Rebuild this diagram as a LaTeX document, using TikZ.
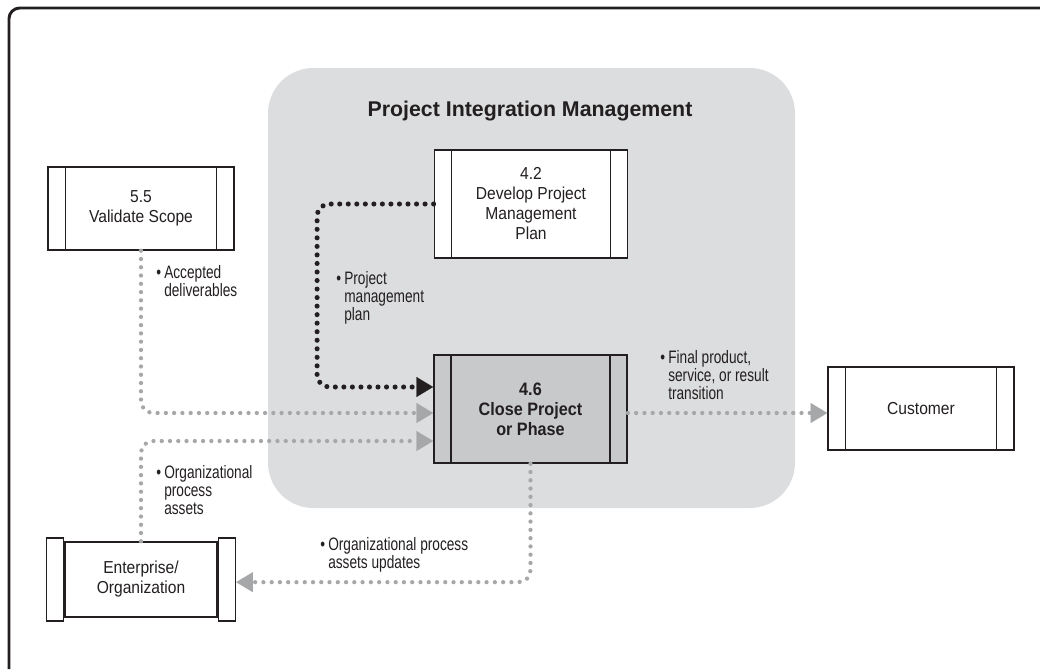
\documentclass[tikz,border=0pt]{standalone}
\usepackage{fontspec}
\setmainfont{Liberation Sans}
\newfontfamily\narrowfont{Liberation Sans}[FakeStretch=0.76]
\newfontfamily\boxfont{Liberation Sans}[FakeStretch=0.9]
\usetikzlibrary{arrows.meta,positioning}
\definecolor{panel}{HTML}{DCDDDE}
\definecolor{dotgray}{HTML}{A6A7A9}
\definecolor{boxgray}{HTML}{C8C9CB}
\definecolor{ink}{HTML}{231F20}
\tikzset{
    every node/.style={text=ink},
    proc/.style={draw=ink, line width=1.1pt, fill=white, inner sep=0pt,
        minimum width=139.5pt, minimum height=62.25pt, align=center,
        font=\boxfont\fontsize{13}{15}\selectfont,
        path picture={\draw[ink, line width=1.1pt]
            ([xshift=13pt]path picture bounding box.north west) -- ([xshift=13pt]path picture bounding box.south west)
            ([xshift=-13pt]path picture bounding box.north east) -- ([xshift=-13pt]path picture bounding box.south east);}},
    big/.style={minimum width=145pt, minimum height=81pt},
    cur/.style={fill=boxgray, font=\boxfont\fontsize{13.5}{15}\selectfont\bfseries},
    ent/.style={draw=ink, line width=1.1pt, fill=white, minimum width=114pt,
        minimum height=56.25pt, align=center, font=\boxfont\fontsize{13}{15}\selectfont},
    rail/.style={draw=ink, line width=1.1pt, fill=white, inner sep=0pt,
        minimum width=12.75pt, minimum height=62.25pt},
    lab/.style={anchor=north west, inner sep=0pt, align=left,
        font=\narrowfont\fontsize{13.5}{13.4}\selectfont},
    flow/.style={draw=dotgray, line width=3.2pt, line cap=round, rounded corners=9pt,
        dash pattern=on 0pt off 6.2pt,
        -{Triangle[length=12.5pt, width=15pt, line width=0.1pt, fill=dotgray]}},
    plan/.style={draw=ink, line width=3.8pt, line cap=round, rounded corners=9pt,
        dash pattern=on 0pt off 6.4pt,
        -{Triangle[length=12.5pt, width=15pt, line width=0.1pt, fill=ink]}}
}
\begin{document}
\begin{tikzpicture}[x=0.75pt, y=-0.75pt]
\useasboundingbox (0,0) rectangle (1040,669);
\draw[ink, line width=2.2pt, rounded corners=8pt] (9,669) -- (9,8) -- (1040,8);

% integration panel
\fill[panel, rounded corners=34pt] (268,68) rectangle (795,508);
\node[font=\fontsize{16}{18}\selectfont\bfseries] (title) at (530,111) {Project Integration Management};

\node[proc, big] (p42) at (531,204) {4.2\\Develop Project\\Management\\Plan};
\node[proc, big, cur] (p46) at (530.5,409) {4.6\\Close Project\\or Phase};
\node[proc] (p55) at (141,208.5) {5.5\\Validate Scope};
\node[proc] (cus) at (921,408.5) {Customer};

\node[ent] (ent) at (141,579.5) {Enterprise/\\Organization};
\node[rail, anchor=east] (entl) at (ent.west) {};
\node[rail, anchor=west] (entr) at (ent.east) {};

% inputs
\draw[plan] (p42.west) -| ([xshift=-87pt,yshift=16.5pt]p46.west) -- ([yshift=16.5pt]p46.west);
\draw[flow] (p55.south) |- ([yshift=-3pt]p46.west);
\draw[flow] (ent.north) |- ([yshift=-24pt]p46.west);

% outputs
\draw[flow] ([yshift=-3pt]p46.east) -- ([yshift=-3pt]p46.east -| cus.west);
\draw[flow] (p46.south) |- ([yshift=-2pt]entr.east);

\node[lab] (acc) at (164,265) {\llap{\textbullet\,}Accepted\\deliverables};
\node[lab] (pmp) at (344,271) {\llap{\textbullet\,}Project\\management\\plan};
\node[lab] (fin) at (668,350) {\llap{\textbullet\,}Final product,\\service, or result\\transition};
\node[lab] (opa) at (164,465) {\llap{\textbullet\,}Organizational\\process\\assets};
\node[lab] (opu) at (328,537) {\llap{\textbullet\,}Organizational process\\assets updates};
\end{tikzpicture}
\end{document}
